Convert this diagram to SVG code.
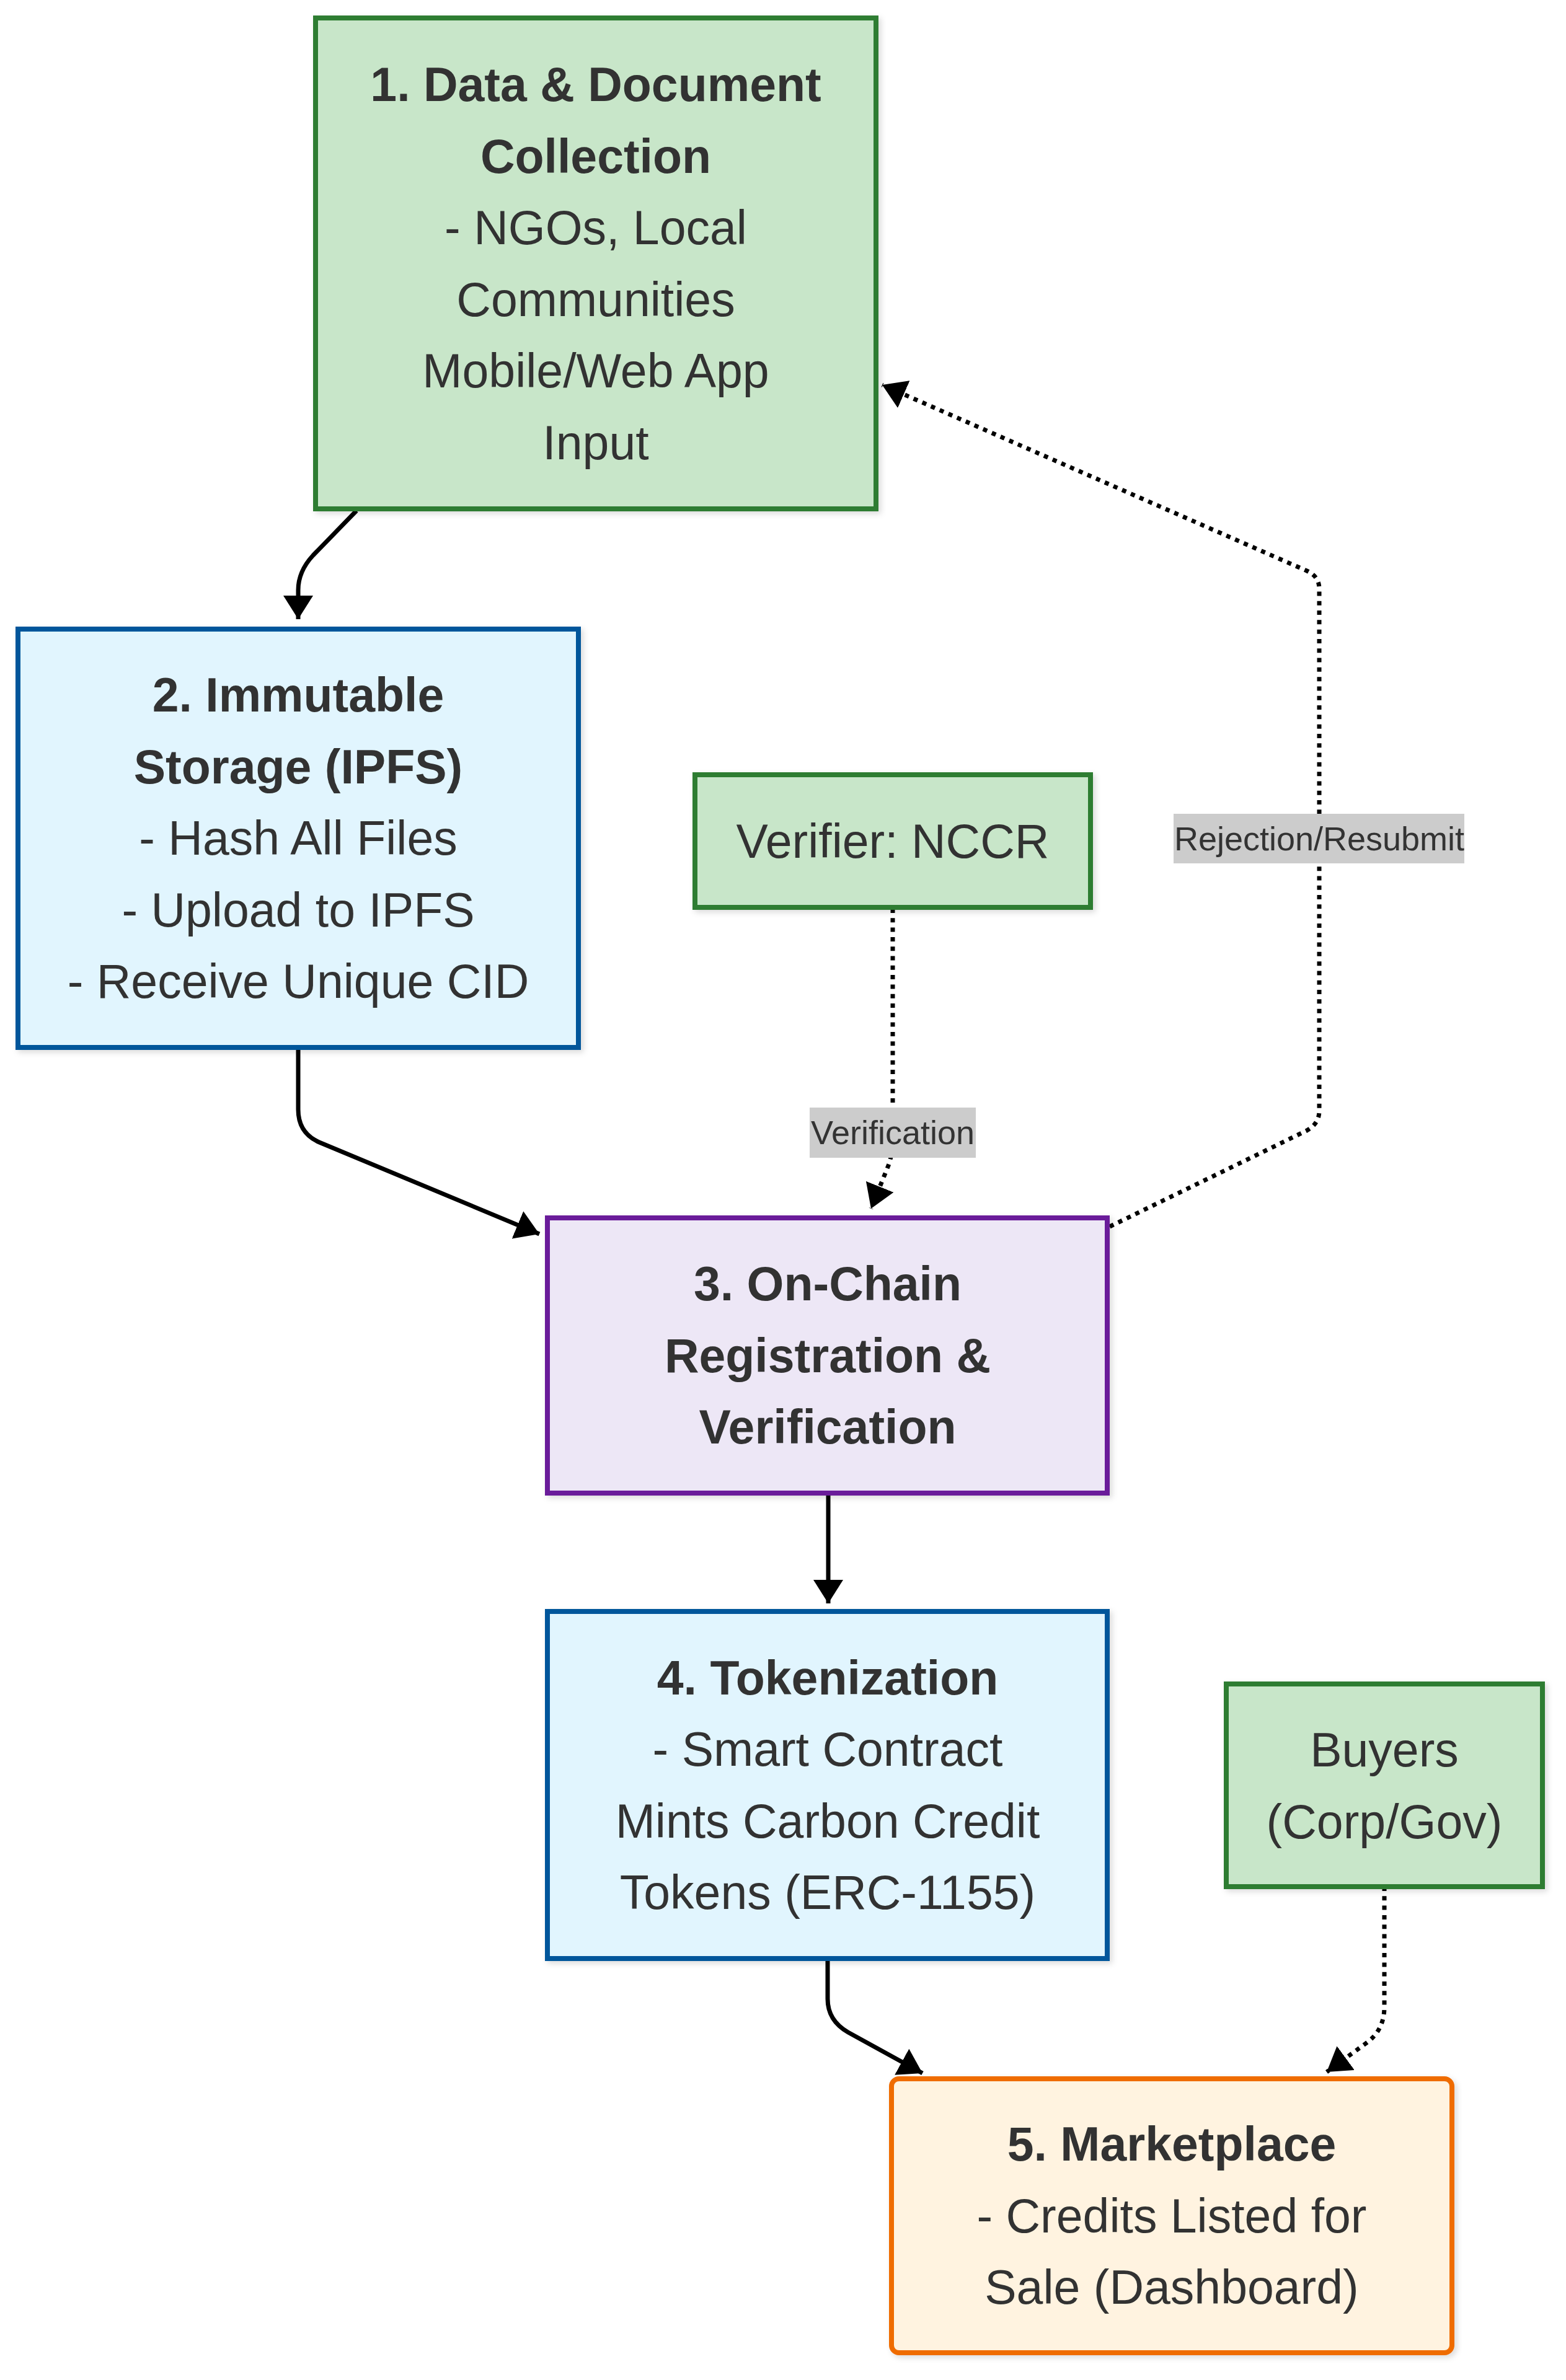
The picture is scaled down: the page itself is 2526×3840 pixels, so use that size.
<svg xmlns="http://www.w3.org/2000/svg" width="2526" height="3840" viewBox="0 0 2526 3840">
<style>
text{font-family:"Liberation Sans",Arial,Helvetica,sans-serif;fill:#333333;text-anchor:middle}
.t{font-size:77px}
.b{font-weight:bold}
.el{font-size:54px}
.node{stroke-width:8}
.green{fill:#c8e6c9;stroke:#2e7d32}
.blue{fill:#e1f5fe;stroke:#01579b}
.purple{fill:#ede7f6;stroke:#6a1b9a}
.orange{fill:#fff3e0;stroke:#ef6c00}
.edge{fill:none;stroke:#000000;stroke-width:7;stroke-linejoin:round}
.dot{stroke-width:7;stroke-dasharray:7 8.3}
.lbg{fill:#cccccc}
</style>
<defs>
<marker id="arrow" markerUnits="userSpaceOnUse" viewBox="0 0 38 48" refX="38" refY="24" markerWidth="38" markerHeight="48" orient="auto">
<path d="M0,0 L38,24 L0,48 z" fill="#000000"/>
</marker>
<filter id="sh" x="-5%" y="-5%" width="115%" height="115%">
<feDropShadow dx="4" dy="4" stdDeviation="5" flood-color="#000000" flood-opacity="0.14"/>
</filter>
</defs>
<rect width="2526" height="3840" fill="#ffffff"/>
<g id="connectors">
<path class="edge" d="M575,824 L505,896 Q481,922 481,952 L481,999" marker-end="url(#arrow)"/>
<path class="edge" d="M481,1690 L481,1790 Q481,1828 515,1843 L870,1991" marker-end="url(#arrow)"/>
<path class="edge" d="M1336,2409 L1336,2587" marker-end="url(#arrow)"/>
<path class="edge" d="M1335,3160 L1335,3225 Q1335,3260 1368,3279 L1488,3345" marker-end="url(#arrow)"/>
<path class="edge dot" d="M1440,1466 L1440,1838 Q1440,1858 1434,1878 L1405,1950" marker-end="url(#arrow)"/>
<path class="edge dot" d="M1790,1979 L2108,1824 Q2128,1813 2128,1792 L2128,950 Q2128,930 2108,921 L1423,621" marker-end="url(#arrow)"/>
<path class="edge dot" d="M2233,3044 L2233,3238 Q2233,3276 2203,3297 L2140,3343" marker-end="url(#arrow)"/>
</g>
<g id="edge-labels">
<g id="label-verification">
<rect class="lbg" x="1306" y="1787" width="268" height="81"/>
<text class="el" x="1440" y="1846">Verification</text>
</g>
<g id="label-rejection">
<rect class="lbg" x="1893" y="1313" width="469" height="80"/>
<text class="el" x="2128" y="1372">Rejection/Resubmit</text>
</g>
</g>
<g id="node1" filter="url(#sh)">
<rect class="node green" x="509" y="29" width="904" height="792"/>
<text class="t b" x="961" y="163">1. Data &amp; Document</text>
<text class="t b" x="961" y="279">Collection</text>
<text class="t" x="961" y="394">- NGOs, Local</text>
<text class="t" x="961" y="510">Communities</text>
<text class="t" x="961" y="625">Mobile/Web App</text>
<text class="t" x="961" y="741">Input</text>
</g>
<g id="node2" filter="url(#sh)">
<rect class="node blue" x="29" y="1015" width="904" height="675"/>
<text class="t b" x="481" y="1148">2. Immutable</text>
<text class="t b" x="481" y="1264">Storage (IPFS)</text>
<text class="t" x="481" y="1379">- Hash All Files</text>
<text class="t" x="481" y="1495">- Upload to IPFS</text>
<text class="t" x="481" y="1610">- Receive Unique CID</text>
</g>
<g id="verifier" filter="url(#sh)">
<rect class="node green" x="1121" y="1250" width="638" height="214"/>
<text class="t" x="1440" y="1384">Verifier: NCCR</text>
</g>
<g id="node3" filter="url(#sh)">
<rect class="node purple" x="883" y="1965" width="903" height="444"/>
<text class="t b" x="1335" y="2098">3. On-Chain</text>
<text class="t b" x="1335" y="2214">Registration &amp;</text>
<text class="t b" x="1335" y="2329">Verification</text>
</g>
<g id="node4" filter="url(#sh)">
<rect class="node blue" x="883" y="2600" width="903" height="560"/>
<text class="t b" x="1335" y="2734">4. Tokenization</text>
<text class="t" x="1335" y="2849">- Smart Contract</text>
<text class="t" x="1335" y="2965">Mints Carbon Credit</text>
<text class="t" x="1335" y="3080">Tokens (ERC-1155)</text>
</g>
<g id="buyers" filter="url(#sh)">
<rect class="node green" x="1978" y="2717" width="510" height="327"/>
<text class="t" x="2233" y="2850">Buyers</text>
<text class="t" x="2233" y="2966">(Corp/Gov)</text>
</g>
<g id="node5" filter="url(#sh)">
<rect class="node orange" x="1438" y="3354" width="904" height="442" rx="12" ry="12"/>
<text class="t b" x="1890" y="3486">5. Marketplace</text>
<text class="t" x="1890" y="3602">- Credits Listed for</text>
<text class="t" x="1890" y="3717">Sale (Dashboard)</text>
</g>
</svg>
